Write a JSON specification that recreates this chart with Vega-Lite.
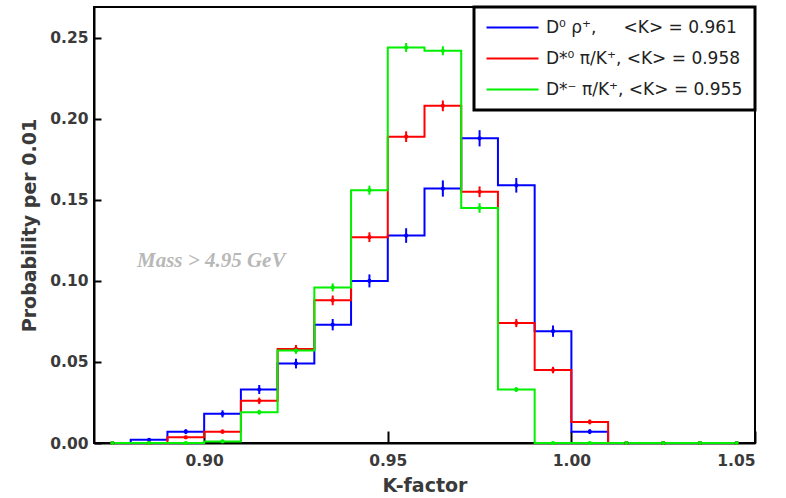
{
  "$schema": "https://vega.github.io/schema/vega-lite/v6.json",
  "width": 661,
  "height": 436,
  "autosize": {"type": "none"},
  "padding": {"left": 94, "top": 7, "right": 31, "bottom": 55},
  "background": "white",
  "config": {
    "view": {"stroke": "black", "strokeWidth": 2},
    "axis": {
      "domainColor": "black", "domainWidth": 2, "grid": false,
      "tickColor": "black", "tickWidth": 2,
      "labelFont": "DejaVu Sans", "labelFontWeight": "bold", "labelFontSize": 15.5, "labelColor": "#3a3a3a",
      "titleFont": "DejaVu Sans", "titleFontWeight": "bold", "titleFontSize": 19, "titleColor": "#3a3a3a"
    },
    "legend": {
      "labelFont": "DejaVu Sans", "labelFontSize": 17, "labelColor": "#222"
    }
  },
  "datasets": {
    "hist": [
      {"series": "D0rho", "k": 0.875, "p": 0, "err": 0},
      {"series": "D0rho", "k": 0.885, "p": 0.002, "err": 0.0008},
      {"series": "D0rho", "k": 0.895, "p": 0.007, "err": 0.0015},
      {"series": "D0rho", "k": 0.905, "p": 0.018, "err": 0.0022},
      {"series": "D0rho", "k": 0.915, "p": 0.033, "err": 0.0028},
      {"series": "D0rho", "k": 0.925, "p": 0.049, "err": 0.003},
      {"series": "D0rho", "k": 0.935, "p": 0.073, "err": 0.0035},
      {"series": "D0rho", "k": 0.945, "p": 0.100, "err": 0.004},
      {"series": "D0rho", "k": 0.955, "p": 0.128, "err": 0.0045},
      {"series": "D0rho", "k": 0.965, "p": 0.157, "err": 0.005},
      {"series": "D0rho", "k": 0.975, "p": 0.188, "err": 0.005},
      {"series": "D0rho", "k": 0.985, "p": 0.159, "err": 0.0045},
      {"series": "D0rho", "k": 0.995, "p": 0.069, "err": 0.0035},
      {"series": "D0rho", "k": 1.005, "p": 0.007, "err": 0.0015},
      {"series": "D0rho", "k": 1.015, "p": 0, "err": 0},
      {"series": "D0rho", "k": 1.025, "p": 0, "err": 0},
      {"series": "D0rho", "k": 1.035, "p": 0, "err": 0},
      {"series": "D0rho", "k": 1.045, "p": 0, "err": 0},
      {"series": "Dst0piK", "k": 0.875, "p": 0, "err": 0},
      {"series": "Dst0piK", "k": 0.885, "p": 0, "err": 0},
      {"series": "Dst0piK", "k": 0.895, "p": 0.0035, "err": 0.001},
      {"series": "Dst0piK", "k": 0.905, "p": 0.007, "err": 0.0013},
      {"series": "Dst0piK", "k": 0.915, "p": 0.026, "err": 0.002},
      {"series": "Dst0piK", "k": 0.925, "p": 0.058, "err": 0.0025},
      {"series": "Dst0piK", "k": 0.935, "p": 0.088, "err": 0.003},
      {"series": "Dst0piK", "k": 0.945, "p": 0.127, "err": 0.003},
      {"series": "Dst0piK", "k": 0.955, "p": 0.189, "err": 0.0033},
      {"series": "Dst0piK", "k": 0.965, "p": 0.208, "err": 0.0033},
      {"series": "Dst0piK", "k": 0.975, "p": 0.155, "err": 0.0033},
      {"series": "Dst0piK", "k": 0.985, "p": 0.074, "err": 0.0025},
      {"series": "Dst0piK", "k": 0.995, "p": 0.045, "err": 0.002},
      {"series": "Dst0piK", "k": 1.005, "p": 0.013, "err": 0.0015},
      {"series": "Dst0piK", "k": 1.015, "p": 0, "err": 0},
      {"series": "Dst0piK", "k": 1.025, "p": 0, "err": 0},
      {"series": "Dst0piK", "k": 1.035, "p": 0, "err": 0},
      {"series": "Dst0piK", "k": 1.045, "p": 0, "err": 0},
      {"series": "DstmpiK", "k": 0.875, "p": 0, "err": 0},
      {"series": "DstmpiK", "k": 0.885, "p": 0, "err": 0},
      {"series": "DstmpiK", "k": 0.895, "p": 0, "err": 0},
      {"series": "DstmpiK", "k": 0.905, "p": 0.001, "err": 0.0005},
      {"series": "DstmpiK", "k": 0.915, "p": 0.019, "err": 0.0015},
      {"series": "DstmpiK", "k": 0.925, "p": 0.057, "err": 0.002},
      {"series": "DstmpiK", "k": 0.935, "p": 0.096, "err": 0.0025},
      {"series": "DstmpiK", "k": 0.945, "p": 0.156, "err": 0.0028},
      {"series": "DstmpiK", "k": 0.955, "p": 0.244, "err": 0.0028},
      {"series": "DstmpiK", "k": 0.965, "p": 0.242, "err": 0.0028},
      {"series": "DstmpiK", "k": 0.975, "p": 0.145, "err": 0.003},
      {"series": "DstmpiK", "k": 0.985, "p": 0.033, "err": 0.0015},
      {"series": "DstmpiK", "k": 0.995, "p": 0, "err": 0},
      {"series": "DstmpiK", "k": 1.005, "p": 0, "err": 0},
      {"series": "DstmpiK", "k": 1.015, "p": 0, "err": 0},
      {"series": "DstmpiK", "k": 1.025, "p": 0, "err": 0},
      {"series": "DstmpiK", "k": 1.035, "p": 0, "err": 0},
      {"series": "DstmpiK", "k": 1.045, "p": 0, "err": 0}
    ],
    "note": [
      {"k": 0.8817, "p": 0.112, "label": "Mass > 4.95 GeV"}
    ]
  },
  "layer": [
    {
      "data": {"name": "hist"},
      "mark": {"type": "line", "interpolate": "step", "strokeWidth": 2},
      "encoding": {
        "x": {"field": "k", "type": "quantitative", "title": "K-factor",
              "scale": {"domain": [0.87, 1.05], "nice": false, "zero": false},
              "axis": {"values": [0.90, 0.95, 1.00, 1.05], "format": ".2f",
                       "tickSize": -12, "labelPadding": 22, "titlePadding": 8}},
        "y": {"field": "p", "type": "quantitative", "title": "Probability per 0.01",
              "scale": {"domain": [0, 0.269], "nice": false},
              "axis": {"values": [0, 0.05, 0.10, 0.15, 0.20, 0.25], "format": ".2f",
                       "tickSize": -7, "labelPadding": 13, "titlePadding": 10}},
        "color": {"field": "series", "type": "nominal",
                  "scale": {"domain": ["D0rho", "Dst0piK", "DstmpiK"], "range": ["#0000ff", "#ff0000", "#00f000"]},
                  "legend": {
                    "title": null, "orient": "top-right", "offset": 0,
                    "strokeColor": "black", "fillColor": "white",
                    "padding": 12, "rowPadding": 13, "symbolType": "M-4,0H4", "symbolStrokeWidth": 2, "symbolSize": 169,
                    "symbolOffset": 18, "labelOffset": 25,
                    "labelExpr": "datum.value == 'D0rho' ? 'D⁰ ρ⁺,\u00a0\u00a0\u00a0\u00a0 <K> = 0.961' : datum.value == 'Dst0piK' ? 'D*⁰ π/K⁺, <K> = 0.958' : 'D*⁻ π/K⁺, <K> = 0.955'",
                    "labelLimit": 400,
                    "encode": {"legend": {"update": {"strokeWidth": {"value": 3}}}}
                  }}
      }
    },
    {
      "data": {"name": "hist"},
      "mark": {"type": "errorbar", "thickness": 2},
      "encoding": {
        "x": {"field": "k", "type": "quantitative", "title": "K-factor"},
        "y": {"field": "p", "type": "quantitative", "title": "Probability per 0.01"},
        "yError": {"field": "err"},
        "color": {"field": "series", "type": "nominal", "legend": null}
      }
    },
    {
      "data": {"name": "hist"},
      "mark": {"type": "point", "filled": true, "size": 18, "opacity": 1},
      "encoding": {
        "x": {"field": "k", "type": "quantitative", "title": "K-factor"},
        "y": {"field": "p", "type": "quantitative", "title": "Probability per 0.01"},
        "color": {"field": "series", "type": "nominal", "legend": null}
      }
    },
    {
      "data": {"name": "note"},
      "mark": {"type": "text", "align": "left", "baseline": "middle", "font": "Liberation Serif", "fontStyle": "italic", "fontWeight": "bold", "fontSize": 21, "color": "#b8b8b8"},
      "encoding": {
        "x": {"field": "k", "type": "quantitative", "title": "K-factor"},
        "y": {"field": "p", "type": "quantitative", "title": "Probability per 0.01"},
        "text": {"field": "label"}
      }
    }
  ]
}
